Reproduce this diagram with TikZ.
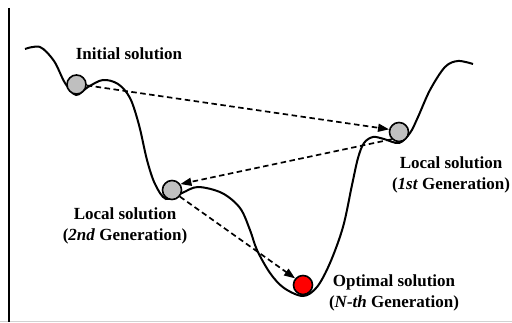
\documentclass[tikz,border=0pt]{standalone}
\usepackage{fontspec}
\setmainfont{Liberation Serif}
\usetikzlibrary{arrows.meta}

\tikzset{
  ball/.style={circle, draw, line width=1.6pt, minimum size=19pt, inner sep=0pt, fill=gray!50},
  jump/.style={line width=1.7pt, dash pattern=on 5.5pt off 3.5pt, -{Triangle[length=11pt,width=8pt]}},
  lbl/.style={font=\bfseries\fontsize{17}{21}\selectfont, align=center, inner sep=0pt, anchor=north}
}

\begin{document}
\begin{tikzpicture}[x=1pt,y=-1pt]
\useasboundingbox (0,0) rectangle (512,323);

% Frame
\draw[gray!35, line width=1pt] (0,321.5) -- (512,321.5);
\draw[line width=2pt] (8.5,8) -- (8.5,322);

% Landscape
\draw[line width=2pt] plot[smooth, tension=0.55] coordinates {
  (25,49) (40,47) (54,61) (65,83) (76,95) (88,87) (103,80) (118,84)
  (130,98) (139,125) (147,160) (155,184) (166,199) (182,193) (198,187)
  (222,193) (240,208) (250,230) (257,250) (270,273) (284,288) (303,296)
  (317,287) (330,263) (343,227) (352,185) (358,158) (364,143) (373,137)
  (384,139) (399,143) (410,133) (418,117) (430,90) (445,67) (458,61) (473,64)
};

% Solutions
\node[ball] (init) at (76.5,84.5) {};
\node[ball] (loc1) at (399,132) {};
\node[ball] (loc2) at (172,190) {};
\node[ball, fill=red] (opt) at (303,285) {};

% Jumps
\draw[jump] (init.-5) -- (loc1.165);
\draw[jump] (loc1.225) -- (loc2.35);
\draw[jump] (loc2.-40) -- (opt.140);

% Labels
\node[lbl] (lblinit) at (129,48) {Initial solution};
\node[lbl] (lblloc1) at (451,157) {Local solution\\(\textit{1st} Generation)};
\node[lbl] (lblloc2) at (125,208) {Local solution\\(\textit{2nd} Generation)};
\node[lbl] (lblopt) at (394,275) {Optimal solution\\(\textit{N-th} Generation)};

\end{tikzpicture}
\end{document}
